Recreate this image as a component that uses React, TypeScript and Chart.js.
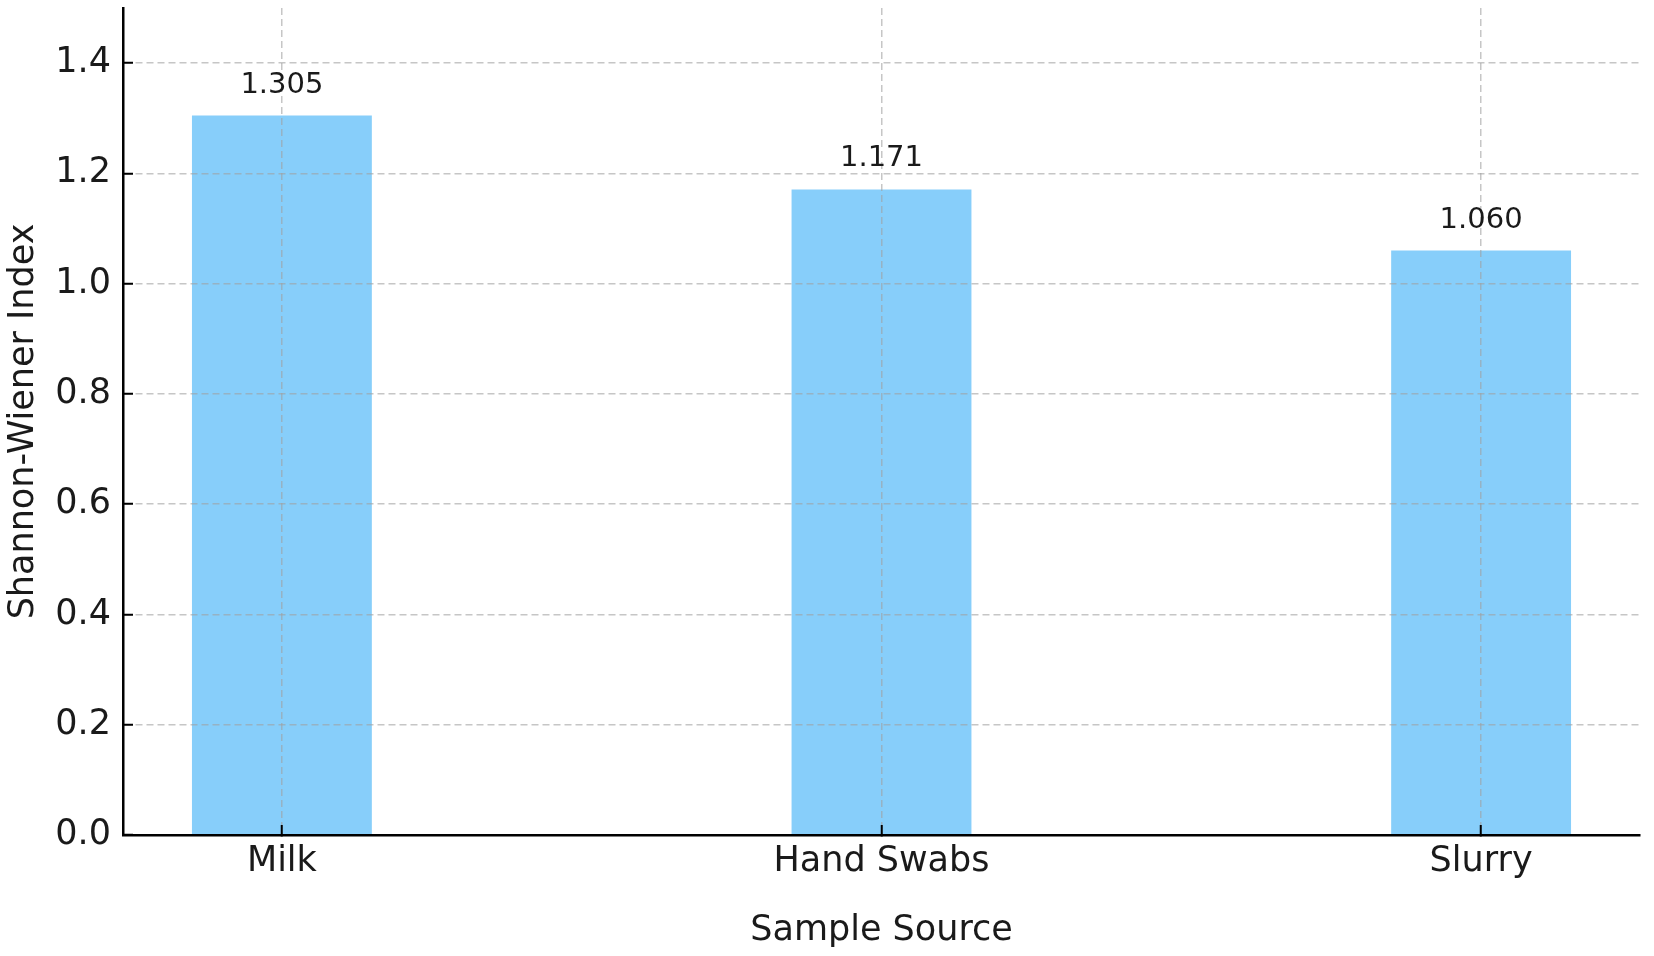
import React, { useEffect, useRef } from "react";
import { Chart, registerables } from "chart.js";

Chart.register(...registerables);

const categories = ["Milk", "Hand Swabs", "Slurry"];
const categoryPositions = [0, 1, 2];
const shannonValues = [1.305, 1.171, 1.06];
const yTickValues = [0, 0.2, 0.4, 0.6, 0.8, 1.0, 1.2, 1.4];

const FONT = "'DejaVu Sans', sans-serif";
const TEXT = "#1a1a1a";
const GRID = "rgba(160,160,160,0.6)";

const valueLabels = {
  id: "valueLabels",
  afterDraw(chart: any) {
    const ctx = chart.ctx;
    const meta = chart.getDatasetMeta(0);
    ctx.save();
    ctx.font = `29px ${FONT}`;
    ctx.fillStyle = TEXT;
    ctx.textAlign = "center";
    ctx.textBaseline = "alphabetic";
    meta.data.forEach((bar: any, i: number) => {
      ctx.fillText(shannonValues[i].toFixed(3), bar.x, bar.y - 23);
    });
    ctx.restore();
  },
};

export default function App() {
  const ref = useRef<HTMLCanvasElement>(null);

  useEffect(() => {
    if (!ref.current) return;
    const chart = new Chart(ref.current, {
      type: "bar",
      data: {
        datasets: [
          {
            data: categoryPositions.map((x, i) => ({ x, y: shannonValues[i] })),
            backgroundColor: "#87CEFA",
            borderWidth: 0,
            barPercentage: 0.3,
            categoryPercentage: 1,
          },
        ],
      },
      plugins: [valueLabels],
      options: {
        responsive: false,
        animation: false,
        events: [],
        layout: { padding: { top: 8, right: 14, left: 0, bottom: 0 } },
        plugins: {
          legend: { display: false },
          tooltip: { enabled: false },
        },
        scales: {
          x: {
            type: "linear",
            min: -0.265,
            max: 2.265,
            offset: false,
            afterBuildTicks: (s: any) => {
              s.ticks = categoryPositions.map((v) => ({ value: v }));
            },
            afterFit: (s: any) => {
              s.height = 121;
              s.paddingLeft = 0;
              s.paddingRight = 0;
            },
            ticks: {
              autoSkip: false,
              maxRotation: 0,
              padding: 16,
              color: TEXT,
              font: { family: FONT, size: 35 },
              callback: (v: any) => categories[Math.round(Number(v))] ?? "",
            },
            grid: {
              offset: false,
              z: 1,
              color: GRID,
              lineWidth: 1.5,
              tickLength: -10,
              tickColor: "#000",
              tickWidth: 2,
              tickBorderDash: [],
            },
            border: { display: true, color: "#000", width: 2.5, dash: [7, 4], z: 2 },
            title: {
              display: true,
              text: "Sample Source",
              color: TEXT,
              font: { family: FONT, size: 35 },
              padding: { top: 0, bottom: 4 },
            },
          },
          y: {
            type: "linear",
            min: 0,
            max: 1.5,
            afterBuildTicks: (s: any) => {
              s.ticks = yTickValues.map((v) => ({ value: v }));
            },
            afterFit: (s: any) => {
              s.width = 123;
              s.paddingTop = 0;
              s.paddingBottom = 0;
            },
            ticks: {
              padding: 22,
              color: TEXT,
              font: { family: FONT, size: 35 },
              callback: (v: any) => Number(v).toFixed(1),
            },
            grid: {
              z: 1,
              color: GRID,
              lineWidth: 1.5,
              tickLength: -10,
              tickColor: "#000",
              tickWidth: 2,
              tickBorderDash: [],
            },
            border: { display: true, color: "#000", width: 2.5, dash: [7, 4], z: 2 },
            title: {
              display: true,
              text: "Shannon-Wiener Index",
              color: TEXT,
              font: { family: FONT, size: 35 },
              padding: { top: 3, bottom: 0 },
            },
          },
        },
      } as any,
    });
    return () => chart.destroy();
  }, []);

  return (
    <canvas
      ref={ref}
      width={1654}
      height={956}
      style={{ position: "fixed", left: 0, top: 0, display: "block", background: "#fff" }}
    />
  );
}
